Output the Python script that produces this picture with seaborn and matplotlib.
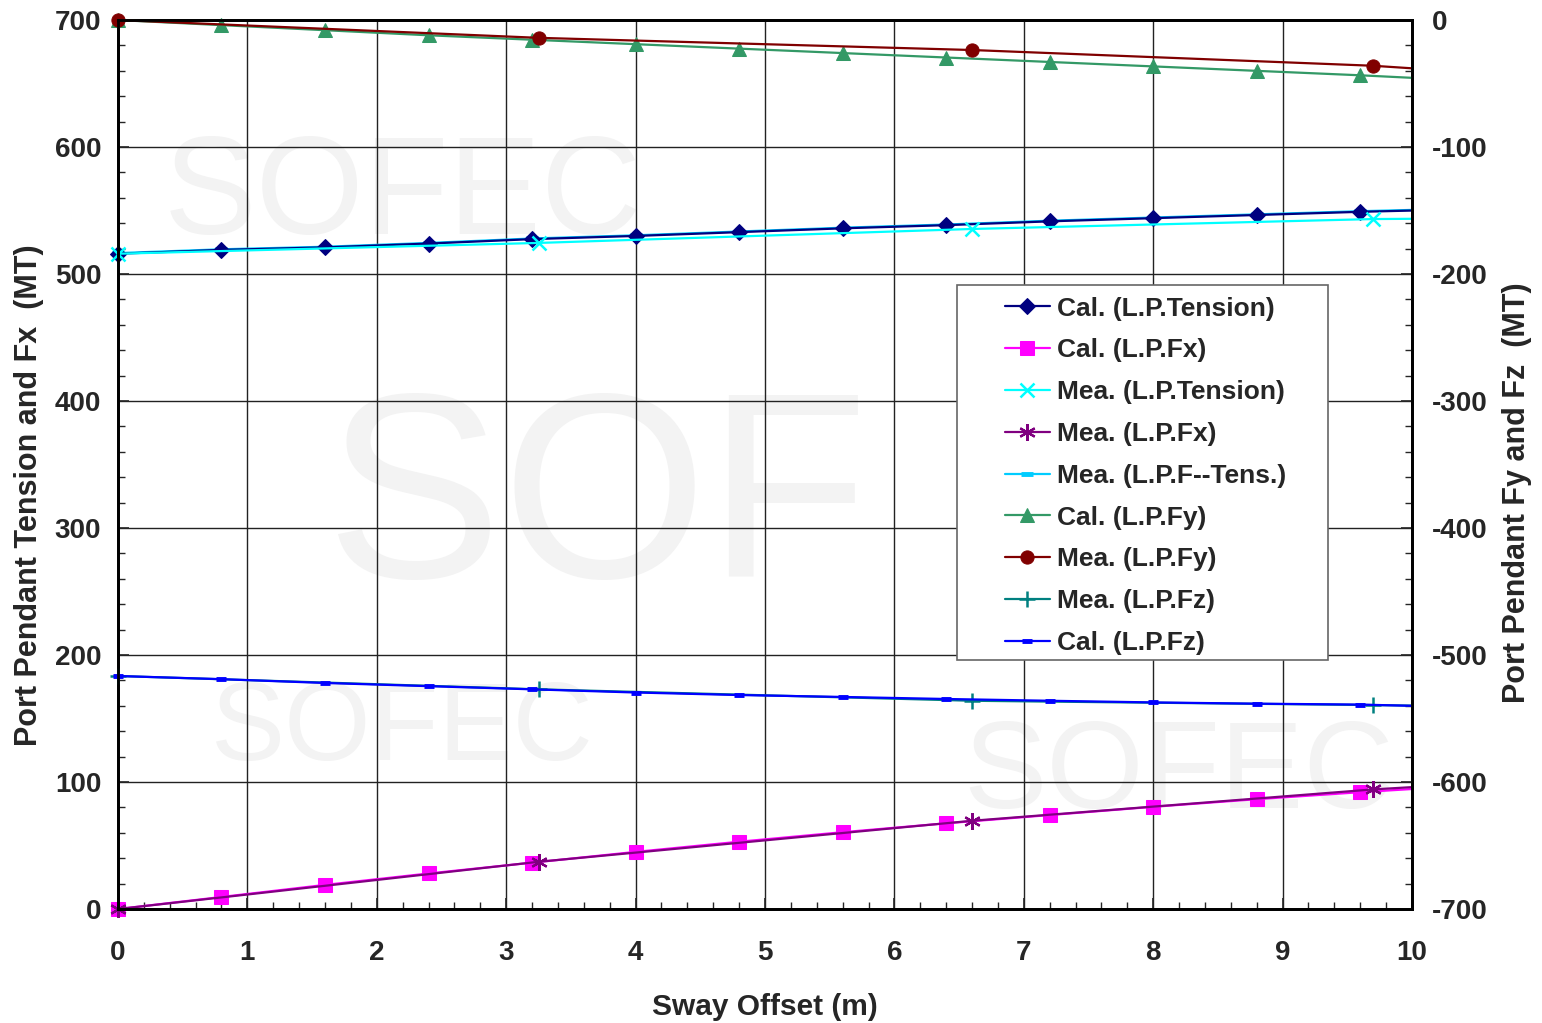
import numpy as np
import pandas as pd
import matplotlib
matplotlib.use('Agg')
import matplotlib.pyplot as plt
from matplotlib.ticker import MultipleLocator
from matplotlib.patches import Rectangle
import seaborn as sns

sns.set_theme(style='white')
plt.rcParams['font.family'] = ['Liberation Sans', 'DejaVu Sans']
plt.rcParams['font.weight'] = 'bold'
plt.rcParams['axes.unicode_minus'] = False

# ---------- data ----------
x_cal = [0, 0.8, 1.6, 2.4, 3.2, 4.0, 4.8, 5.6, 6.4, 7.2, 8.0, 8.8, 9.6, 10.0]
x_mea = [0, 3.25, 6.6, 9.7, 10.0]

cal_tension = [516, 519, 521, 524, 527.5, 530, 533, 536, 538.5, 541.5, 544, 546.5, 549, 550]
cal_fx = [0, 9.5, 19, 28, 36.5, 45, 53, 60.5, 67.5, 74, 80.5, 86.5, 92, 94.5]
mea_tension = [516, 524.5, 535.5, 543.3, 543.5]
mea_fx = [0, 37.2, 69.5, 94.2, 96]
mea_f_tens = [516.5, 519.5, 521.5, 524.5, 528, 530.5, 533.5, 536.5, 539, 542, 544.5, 547, 549.5, 550.5]

cal_fy = [0, -4, -8, -12, -15.5, -19, -22.5, -26, -29.5, -33, -36.5, -40, -43.5, -45.5]
mea_fy = [0, -14, -23.6, -36, -38]
mea_fz = [-516.5, -527, -536, -539.4, -539.8]
cal_fz = [-516.5, -519, -522, -524.5, -527, -529.5, -531.5, -533, -534.6, -536, -537.3, -538.3, -539, -540]

fig = plt.figure(figsize=(15.42, 10.23), dpi=100)
ax = fig.add_axes([0.0765, 0.1114, 0.8392, 0.869])
ax2 = ax.twinx()

# faint watermark
for (txt, tx, ty, fs) in [('SOF', 0.37, 0.45, 190), ('SOFEC', 0.22, 0.80, 100),
                          ('SOFEC', 0.22, 0.20, 80), ('SOFEC', 0.82, 0.15, 90)]:
    ax.text(tx, ty, txt, transform=ax.transAxes, ha='center', va='center',
            fontsize=fs, color='#f3f3f3', zorder=0, fontweight='normal')

lw = 1.6
cal_every = slice(0, 13)
mea_every = slice(0, 4)


def draw(a, xs, ys, color, label, every, **kw):
    sns.lineplot(x=xs, y=ys, ax=a, color=color, lw=lw, markevery=every,
                 mec=color, mfc=color, label=label, clip_on=False, **kw)


draw(ax, x_cal, mea_f_tens, '#00ccff', 'Mea. (L.P.F--Tens.)', cal_every, marker='_', ms=8, mew=3.5)
draw(ax, x_cal, cal_tension, '#000080', 'Cal. (L.P.Tension)', cal_every, marker='D', ms=8.5)
draw(ax, x_mea, mea_tension, '#00ffff', 'Mea. (L.P.Tension)', mea_every, marker='x', ms=10, mew=1.8)
draw(ax, x_cal, cal_fx, '#ff00ff', 'Cal. (L.P.Fx)', cal_every, marker='s', ms=10)
draw(ax, x_mea, mea_fx, '#800080', 'Mea. (L.P.Fx)', mea_every, marker=(6, 2, 0), ms=12, mew=1.6)

draw(ax2, x_cal, cal_fy, '#339966', 'Cal. (L.P.Fy)', cal_every, marker='^', ms=10.5)
draw(ax2, x_mea, mea_fy, '#800000', 'Mea. (L.P.Fy)', mea_every, marker='o', ms=9.5)
draw(ax2, x_mea, mea_fz, '#008080', 'Mea. (L.P.Fz)', mea_every, marker='+', ms=12, mew=1.8)
draw(ax2, x_cal, cal_fz, '#0000ff', 'Cal. (L.P.Fz)', cal_every, marker='_', ms=7, mew=3.5)

ax.set_xlim(0, 10)
ax.set_ylim(0, 700)
ax2.set_ylim(-700, 0)

ax.xaxis.set_major_locator(MultipleLocator(1))
ax.xaxis.set_minor_locator(MultipleLocator(0.2))
ax.yaxis.set_major_locator(MultipleLocator(100))
ax.yaxis.set_minor_locator(MultipleLocator(20))
ax2.yaxis.set_major_locator(MultipleLocator(100))
ax2.yaxis.set_minor_locator(MultipleLocator(20))

ax.grid(True, which='major', color='#222222', lw=1.0)
ax.set_axisbelow(True)

for a in (ax, ax2):
    for s in a.spines.values():
        s.set_color('black')
        s.set_linewidth(2)
ax.tick_params(axis='both', which='major', direction='in', length=8, width=1.2, labelsize=20,
               bottom=True, left=True, top=False, right=False)
ax.tick_params(axis='both', which='minor', direction='in', length=5, width=1.0,
               bottom=True, left=True, top=False, right=False)
ax.tick_params(axis='y', pad=12)
ax.tick_params(axis='x', pad=22)
ax2.tick_params(axis='y', which='major', direction='in', length=8, width=1.2, labelsize=20, pad=14, right=True)
ax2.tick_params(axis='y', which='minor', direction='in', length=5, width=1.0, right=True)
for lab in ax.get_xticklabels() + ax.get_yticklabels() + ax2.get_yticklabels():
    lab.set_fontweight('bold')

ax.set_xlabel('Sway Offset (m)', fontsize=21.5, fontweight='bold', labelpad=20)
ax.set_ylabel('Port Pendant Tension and Fx  (MT)', fontsize=22, fontweight='bold')
ax2.set_ylabel('Port Pendant Fy and Fz  (MT)', fontsize=22, fontweight='bold')
ax.yaxis.set_label_coords(-0.057, 0.466)
ax2.yaxis.set_label_coords(1.0696, 0.468)

# legend: drawn frameless over a white box placed as in the reference
ax.get_legend().remove()
h1, l1 = ax.get_legend_handles_labels()
h2, l2 = ax2.get_legend_handles_labels()
hmap = dict(zip(l1 + l2, h1 + h2))
order = ['Cal. (L.P.Tension)', 'Cal. (L.P.Fx)', 'Mea. (L.P.Tension)', 'Mea. (L.P.Fx)',
         'Mea. (L.P.F--Tens.)', 'Cal. (L.P.Fy)', 'Mea. (L.P.Fy)', 'Mea. (L.P.Fz)', 'Cal. (L.P.Fz)']
ax2.add_patch(Rectangle((0.6484, 0.2801), 0.2867, 0.4218, transform=ax2.transAxes,
                        facecolor='white', edgecolor='#666666', lw=1.2, zorder=4.9))
leg = ax2.legend([hmap[k] for k in order], order, loc='upper left',
                 bbox_to_anchor=(0.6855, 0.689), prop={'size': 19, 'weight': 'bold'},
                 frameon=False, handlelength=1.7, handletextpad=0.27, labelspacing=0.675,
                 borderpad=0, borderaxespad=0)
leg.set_zorder(5)

fig.savefig('out.png', dpi=100)
